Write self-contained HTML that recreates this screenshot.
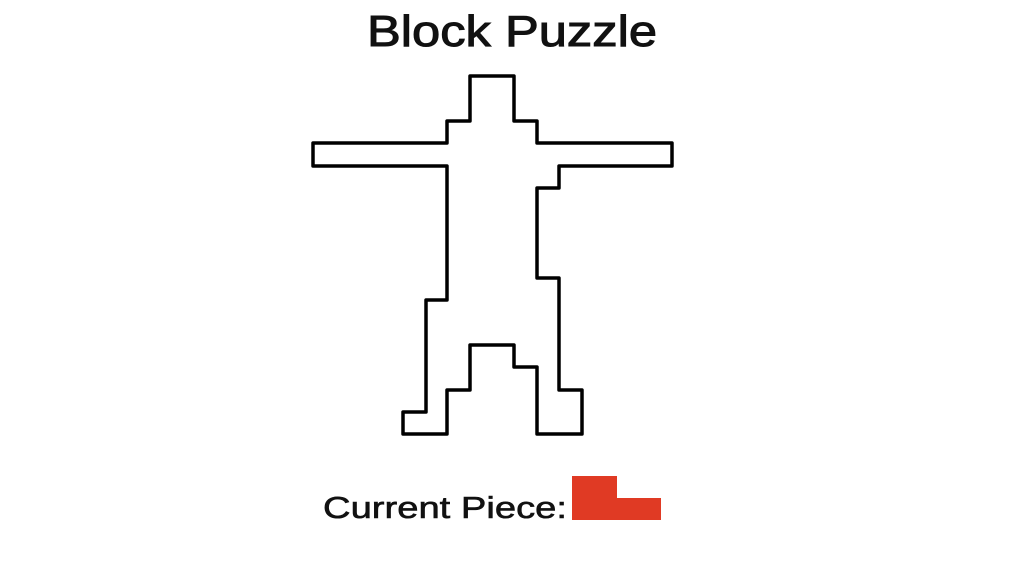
<!DOCTYPE html>
<html><head><meta charset="utf-8"><style>
html,body{margin:0;padding:0;background:#fff;width:1019px;height:573px;overflow:hidden}
svg{display:block}
text{font-family:"Liberation Sans",sans-serif;fill:#111}
</style></head><body>
<svg width="1019" height="573" viewBox="0 0 1019 573">
<text x="367" y="46" font-size="44" textLength="290" lengthAdjust="spacingAndGlyphs" stroke="#111" stroke-width="1">Block Puzzle</text>
<path fill="none" stroke="#000" stroke-width="3.5" stroke-linejoin="round"
d="M470,76 H514 V121 H537 V143 H672 V166 H559 V188 H537 V278 H559 V390 H582 V434 H537 V367 H514 V345 H470 V390 H447 V434 H403 V412 H426 V300 H447 V166 H313 V143 H447 V121 H470 Z"/>
<text x="323" y="518" font-size="31" textLength="244" lengthAdjust="spacingAndGlyphs" stroke="#111" stroke-width="0.6">Current Piece:</text>
<path fill="#e03a24" d="M572,476 H617 V498 H661 V520 H572 Z"/>
</svg>
</body></html>
